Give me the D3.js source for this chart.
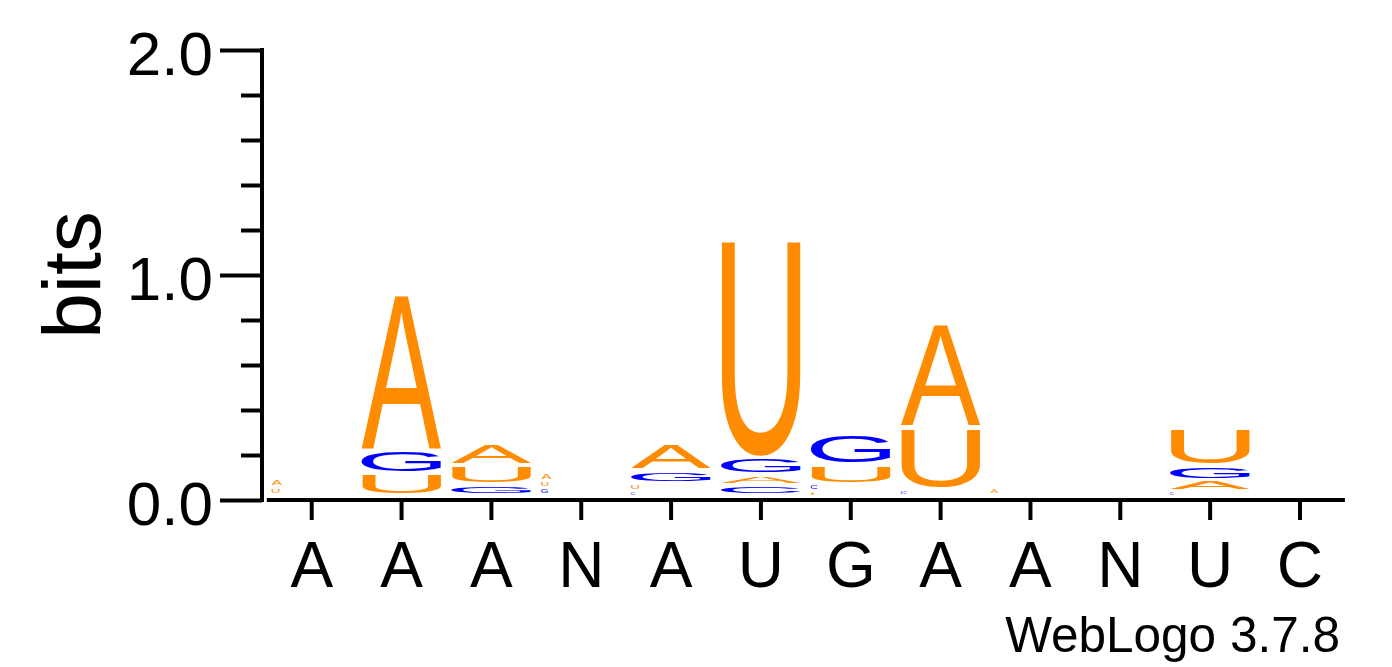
<!DOCTYPE html>
<html>
<head>
<meta charset="utf-8">
<script src="https://cdn.jsdelivr.net/npm/d3@7"></script>
<style>
  body { margin: 0; background: #fff; }
  svg { display: block; }
  text { font-family: "Liberation Sans", Arial, sans-serif; }
</style>
</head>
<body>
<svg id="logo"></svg>
<script>
// sequence positions and consensus labels
const positions = d3.range(1, 13);
const consensus = ["A", "A", "A", "N", "A", "U", "G", "A", "A", "N", "U", "C"];

// letters of each stack, bottom to top
const stackLetters = [
    ["U", "A"],
    ["U", "G", "A"],
    ["G", "U", "A"],
    ["G", "U", "A"],
    ["C", "U", "G", "A"],
    ["C", "A", "G", "U"],
    ["A", "C", "U", "G"],
    ["C", "U", "A"],
    ["A"],
    [],
    ["C", "A", "G", "U"],
    []
];

// height of each letter in bits, same order
const stackBits = [
    [0.036, 0.042],
    [0.095, 0.104, 0.698],
    [0.049, 0.086, 0.096],
    [0.031, 0.033, 0.042],
    [0.018, 0.036, 0.055, 0.119],
    [0.045, 0.046, 0.074, 0.969],
    [0.018, 0.031, 0.089, 0.133],
    [0.027, 0.274, 0.464],
    [0.035],
    [],
    [0.018, 0.050, 0.062, 0.168],
    []
];

const yMajorTicks = [0, 1, 2];
const yMinorTicks = [0.2, 0.4, 0.6, 0.8, 1.2, 1.4, 1.6, 1.8];

const letterColors = { A: "#ff8c00", U: "#ff8c00", G: "#0000ff", C: "#0000ff" };

const width = 1392;
const height = 667;

const svg = d3.select("#logo")
    .attr("width", width)
    .attr("height", height);

const x = d3.scaleBand()
    .domain(positions)
    .range([266.8, 1344.9])
    .padding(0);

const y = d3.scaleLinear()
    .domain([0, 2])
    .range([500, 50]);

const axisX = 262;

// y axis: minor then major ticks
svg.append("g")
    .attr("transform", `translate(${axisX},0)`)
    .call(d3.axisLeft(y).tickValues(yMinorTicks).tickSize(21).tickFormat(""))
    .call(g => g.select(".domain").remove())
    .call(g => g.selectAll("line").attr("stroke", "#000").attr("stroke-width", 4));

svg.append("g")
    .attr("transform", `translate(${axisX},0)`)
    .call(d3.axisLeft(y).tickValues(yMajorTicks).tickSize(42).tickPadding(7).tickFormat(d3.format(".1f")))
    .call(g => g.select(".domain").remove())
    .call(g => g.selectAll("line").attr("stroke", "#000").attr("stroke-width", 4))
    .call(g => g.selectAll("text")
        .attr("fill", "#000")
        .attr("font-size", 62)
        .attr("font-family", "'Liberation Sans', Arial, sans-serif")
        .attr("dy", "0.39em"));

svg.append("line")
    .attr("x1", axisX).attr("x2", axisX)
    .attr("y1", y(2) - 2).attr("y2", y(0) + 2)
    .attr("stroke", "#000").attr("stroke-width", 4);

// x axis
svg.append("g")
    .attr("transform", `translate(0,${y(0)})`)
    .call(d3.axisBottom(x).tickSize(20).tickFormat((d, i) => consensus[i]))
    .call(g => g.select(".domain").remove())
    .call(g => g.selectAll("line").attr("stroke", "#000").attr("stroke-width", 4))
    .call(g => g.selectAll("text")
        .attr("fill", "#000")
        .attr("font-size", 64)
        .attr("font-family", "'Liberation Sans', Arial, sans-serif")
        .attr("y", 86.7)
        .attr("dy", null));

svg.append("line")
    .attr("x1", x.range()[0]).attr("x2", x.range()[1])
    .attr("y1", y(0)).attr("y2", y(0))
    .attr("stroke", "#000").attr("stroke-width", 4);

// glyph bounds, measured once per letter
const ctx = document.createElement("canvas").getContext("2d");
ctx.font = "100px 'Liberation Sans'";
const glyphBox = {};
["A", "C", "G", "U"].forEach(ch => {
    const m = ctx.measureText(ch);
    glyphBox[ch] = {
        l: m.actualBoundingBoxLeft,
        r: m.actualBoundingBoxRight,
        a: m.actualBoundingBoxAscent,
        d: m.actualBoundingBoxDescent
    };
});

const letterWidth = x.bandwidth() * 0.89;
const stackBase = y(0) - 3;

const letters = [];
stackLetters.forEach((col, i) => {
    let base = stackBase;
    const left = x(positions[i]) + (x.bandwidth() - letterWidth) / 2;
    col.forEach((ch, j) => {
        const bits = stackBits[i][j];
        const h = y(0) - y(bits);
        const top = base - h;
        const gap = Math.min(4, h / 2);
        const gh = h - gap;
        // very small letters come out narrow and left-aligned, as in WebLogo's render
        const w = bits < 0.044 ? Math.max(2.5, gh * 1.9) : letterWidth;
        letters.push({ ch, left, top, w, gh });
        base = top;
    });
});

svg.append("g")
    .selectAll("text")
    .data(letters)
    .join("text")
    .attr("font-size", 100)
    .attr("fill", d => letterColors[d.ch])
    .attr("transform", d => {
        const b = glyphBox[d.ch];
        const sx = d.w / (b.l + b.r);
        const sy = d.gh / (b.a + b.d);
        return `translate(${d.left},${d.top}) scale(${sx},${sy}) translate(${b.l},${b.a})`;
    })
    .text(d => d.ch);

// axis title and credit
svg.append("text")
    .attr("transform", `translate(100,${y(1)}) rotate(-90)`)
    .attr("text-anchor", "middle")
    .attr("font-size", 82)
    .text("bits");

svg.append("text")
    .attr("x", 1340)
    .attr("y", 652)
    .attr("text-anchor", "end")
    .attr("font-size", 49.5)
    .text("WebLogo 3.7.8");
</script>
</body>
</html>
